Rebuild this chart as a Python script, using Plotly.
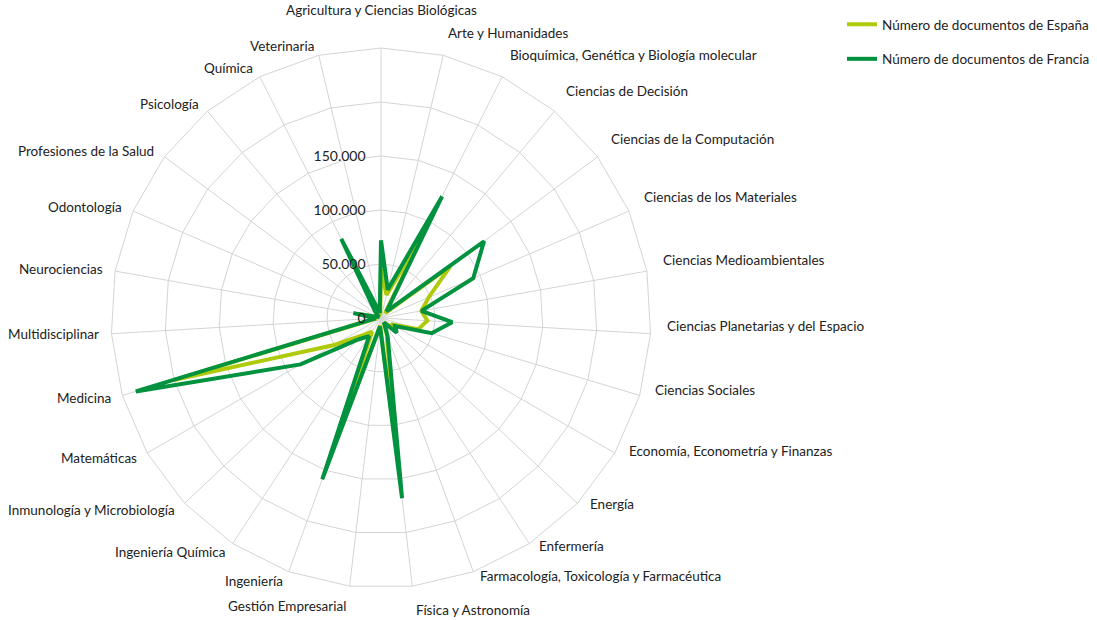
import math
import plotly.graph_objects as go

categories = [
    "Agricultura y Ciencias Biológicas",
    "Arte y Humanidades",
    "Bioquímica, Genética y Biología molecular",
    "Ciencias de Decisión",
    "Ciencias de la Computación",
    "Ciencias de los Materiales",
    "Ciencias Medioambientales",
    "Ciencias Planetarias y del Espacio",
    "Ciencias Sociales",
    "Economía, Econometría y Finanzas",
    "Energía",
    "Enfermería",
    "Farmacología, Toxicología y Farmacéutica",
    "Física y Astronomía",
    "Gestión Empresarial",
    "Ingeniería",
    "Ingeniería Química",
    "Inmunología y Microbiología",
    "Matemáticas",
    "Medicina",
    "Multidisciplinar",
    "Neurociencias",
    "Odontología",
    "Profesiones de la Salud",
    "Psicología",
    "Química",
    "Veterinaria",
]

espana = [45000, 22000, 85000, 6000, 80000, 48000, 38000, 43000, 36000, 12000,
          12000, 5000, 15000, 130000, 7000, 120000, 15000, 23000, 50000, 200000,
          4000, 20000, 1500, 3000, 7000, 60000, 3000]

francia = [72000, 27000, 126000, 8000, 119000, 93000, 38000, 66000, 49000, 15000,
           20000, 5000, 18000, 168000, 8000, 159000, 20000, 29000, 86000, 237000,
           5000, 26000, 2000, 4000, 9000, 82000, 5000]

series_names = ["Número de documentos de España", "Número de documentos de Francia"]
series_colors = ["#AFCA0B", "#00923F"]

radial_ticks = [0, 50000, 100000, 150000, 200000, 250000]
radial_ticktext = ["0", "50.000", "100.000", "150.000", "", ""]

FONT = "Lato"
TXT = "#222222"
GRID = "#D4D4D4"

FW, FH = 1097, 620
# polar centre and radius in pixels
cx, cy, R = 381, 318, 270


def to_paper(px, py):
    return px / FW, 1 - py / FH


fig = go.Figure()
for i, (name, vals, col) in enumerate(zip(series_names, [espana, francia], series_colors)):
    fig.add_trace(go.Scatterpolar(
        r=vals + [vals[0]],
        theta=categories + [categories[0]],
        mode="lines",
        name=name,
        line=dict(color=col, width=4),
        legendgroup=str(i),
    ))

# category labels around the chart
annotations = []
n = len(categories)
for i, cat in enumerate(categories):
    th = math.radians(i * 360.0 / n)
    s, c = math.sin(th), math.cos(th)
    if abs(s) < 0.02:
        d, xa = R + 28, "center"
    elif s > 0:
        d, xa = R + 14, "left"
    else:
        d, xa = R + 10, "right"
    px, py = cx + d * s, cy - d * c
    if c > 0.99:
        ya = "bottom"
    elif c < -0.95:
        ya = "top"
    else:
        ya = "middle"
        if s > 0:
            py -= 9
    x, y = to_paper(px, py)
    annotations.append(dict(
        x=x, y=y, xref="paper", yref="paper", text=cat, showarrow=False,
        xanchor=xa, yanchor=ya, font=dict(family=FONT, size=13.5, color=TXT),
    ))

x0, y0 = to_paper(cx - R, cy + R)
x1, y1 = to_paper(cx + R, cy - R)
lx, ly = to_paper(842, 9)

fig.update_layout(
    width=FW, height=FH,
    margin=dict(l=0, r=0, t=0, b=0),
    paper_bgcolor="white",
    plot_bgcolor="white",
    font=dict(family=FONT, size=13.5, color=TXT),
    polar=dict(
        domain=dict(x=[x0, x1], y=[y0, y1]),
        bgcolor="white",
        gridshape="linear",
        angularaxis=dict(
            rotation=90, direction="clockwise",
            showline=True, linecolor=GRID, linewidth=1,
            gridcolor=GRID, gridwidth=1,
            showticklabels=False, ticks="",
        ),
        radialaxis=dict(
            range=[0, 250000], angle=90, side="counterclockwise",
            tickvals=radial_ticks, ticktext=radial_ticktext,
            showline=False, ticks="outside", ticklen=10,
            tickcolor="rgba(0,0,0,0)", tickangle=90,
            gridcolor=GRID, gridwidth=1,
            tickfont=dict(family=FONT, size=14, color=TXT),
        ),
    ),
    annotations=annotations,
    legend=dict(
        x=lx, y=ly, xanchor="left", yanchor="top",
        font=dict(family=FONT, size=13.5, color=TXT),
        tracegroupgap=14, traceorder="grouped",
        bgcolor="rgba(0,0,0,0)",
    ),
    showlegend=True,
)

fig.write_html(
    "out.html",
    config={"displayModeBar": False},
    post_script="document.body.style.margin='0px';",
)
